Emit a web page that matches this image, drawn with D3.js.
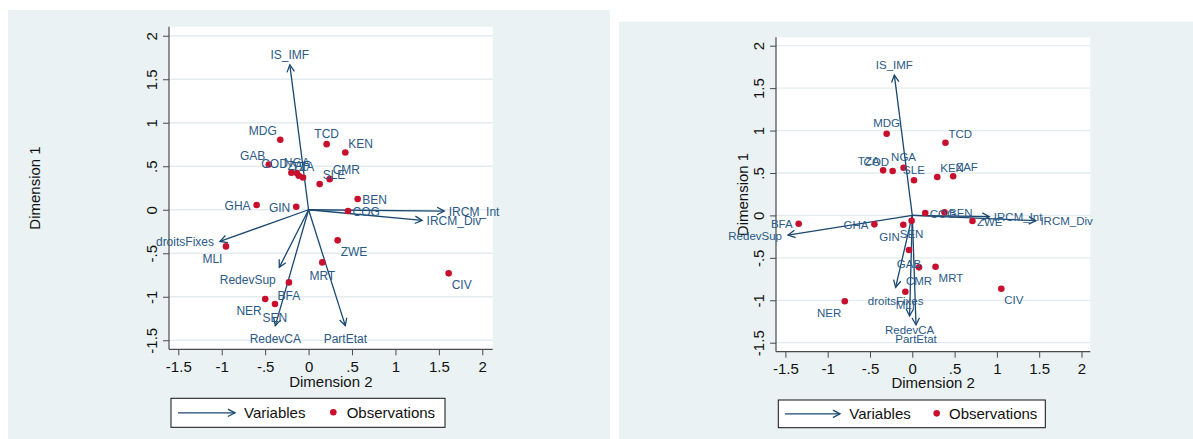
<!DOCTYPE html>
<html>
<head>
<meta charset="utf-8">
<script src="https://cdn.jsdelivr.net/npm/d3@7"></script>
<style>
  body { margin: 0; background: #ffffff; }
  svg { display: block; }
  text { font-family: "Liberation Sans", Arial, Helvetica, sans-serif; }
</style>
</head>
<body>
<svg id="chart" width="1193" height="439"></svg>
<script>
// ---- Data ---------------------------------------------------------------
const countries = ["MDG","TCD","KEN","GAB","COD","NGA","ZAF","TZA","SLE","CMR","BEN",
                   "COG","GHA","GIN","MLI","ZWE","MRT","CIV","BFA","NER","SEN"];

// Biplot A: observation scores
const obsDim2A = [-0.326, 0.208, 0.423,-0.458,-0.198,-0.136,-0.113,-0.064, 0.128, 0.243, 0.565,
                   0.454,-0.598,-0.142,-0.951, 0.335, 0.158, 1.613,-0.226,-0.499,-0.387];
const obsDim1A = [ 0.804, 0.754, 0.658, 0.520, 0.425, 0.421, 0.390, 0.371, 0.295, 0.352, 0.123,
                  -0.015, 0.054, 0.034,-0.421,-0.352,-0.605,-0.731,-0.835,-1.025,-1.083];

// Biplot B: observation scores
const obsDim2B = [-0.303, 0.392, 0.295,-0.039,-0.232,-0.103, 0.483,-0.345, 0.020, 0.079, 0.381,
                   0.153,-0.448,-0.106,-0.082, 0.711, 0.275, 1.052,-1.343,-0.798,-0.008];
const obsDim1B = [ 0.963, 0.857, 0.453,-0.408, 0.523, 0.562, 0.461, 0.531, 0.414,-0.612, 0.037,
                   0.028,-0.105,-0.110,-0.899,-0.066,-0.605,-0.864,-0.098,-1.012,-0.062];

const variables = ["IS_IMF","IRCM_Int","IRCM_Div","droitsFixes","RedevSup","RedevCA","PartEtat"];

// Variable loadings (arrow ends)
const varDim2A = [-0.216, 1.562, 1.307,-1.020,-0.337,-0.383, 0.423];
const varDim1A = [ 1.665,-0.015,-0.123,-0.364,-0.662,-1.332,-1.332];
const varDim2B = [-0.212, 0.911, 1.461,-0.197,-1.469,-0.032, 0.044];
const varDim1B = [ 1.654,-0.015,-0.062,-0.847,-0.231,-1.185,-1.291];

const tickValues = [-1.5, -1, -0.5, 0, 0.5, 1, 1.5, 2];
const tickLabels = ["-1.5", "-1", "-.5", "0", ".5", "1", "1.5", "2"];

const axisTitleX = "Dimension 2";
const axisTitleY = "Dimension 1";
const legendLabels = ["Variables", "Observations"];

// ---- Marker-label clock positions ----------------------------------------
const clockA = {
  MDG:11, TCD:12, KEN:1, GAB:11, COD:11, NGA:12, ZAF:12, TZA:12, SLE:1, CMR:1, BEN:3,
  COG:3, GHA:9, GIN:9, MLI:7, ZWE:5, MRT:6, CIV:5, BFA:6, NER:7, SEN:6,
  IS_IMF:12, IRCM_Int:3, IRCM_Div:3, droitsFixes:9, RedevSup:7, RedevCA:6, PartEtat:6
};
const clockB = {
  MDG:12, TCD:1, KEN:1, GAB:6, COD:11, NGA:12, ZAF:1, TZA:11, SLE:12, CMR:6, BEN:3,
  COG:3, GHA:9, GIN:7, MLI:6, ZWE:3, MRT:5, CIV:5, BFA:9, NER:7, SEN:6,
  IS_IMF:12, IRCM_Int:3, IRCM_Div:3, droitsFixes:6, RedevSup:9, RedevCA:6, PartEtat:6
};

// ---- Styles --------------------------------------------------------------
const C_BG = "#eaf2f3";
const C_GRID = "#e3ecee";
const C_NAVY = "#1a476f";
const C_LABEL = "#2b5a86";
const C_MARK = "#c8102e";
const C_AXIS = "#4a4a4a";

// label placement per clock position: [dx, dy of text centre, anchor]
const clockOffsets = {
  12: [0, -10.5, "middle"],
  1:  [3, -9, "start"],
  2:  [4, -5, "start"],
  3:  [4.5, 0.5, "start"],
  4:  [4, 6, "start"],
  5:  [3, 11.5, "start"],
  6:  [0, 13.5, "middle"],
  7:  [-3.5, 12, "end"],
  8:  [-4, 6, "end"],
  9:  [-6, 0.5, "end"],
  10: [-4, -5, "end"],
  11: [-3.5, -9, "end"]
};

const svg = d3.select("#chart");

function arrowHead(g, x1, y1, x2, y2, len, color, width) {
  const ang = Math.atan2(y2 - y1, x2 - x1);
  const a = Math.PI / 6.5;
  const p1 = [x2 - len * Math.cos(ang - a), y2 - len * Math.sin(ang - a)];
  const p2 = [x2 - len * Math.cos(ang + a), y2 - len * Math.sin(ang + a)];
  g.append("path")
    .attr("d", `M${p1[0]},${p1[1]}L${x2},${y2}L${p2[0]},${p2[1]}`)
    .attr("fill", "none")
    .attr("stroke", color)
    .attr("stroke-width", width)
    .attr("stroke-linejoin", "miter");
}

function drawPanel(cfg) {
  const g = svg.append("g");

  // graph region
  g.append("rect")
    .attr("x", cfg.bg[0]).attr("y", cfg.bg[1])
    .attr("width", cfg.bg[2]).attr("height", cfg.bg[3])
    .attr("fill", C_BG);

  const [L, T, R, B] = cfg.plot;
  const x = d3.scaleLinear().domain(cfg.xDomain).range([L, R]);
  const y = d3.scaleLinear().domain(cfg.yDomain).range([B, T]);

  // plot region
  g.append("rect")
    .attr("x", L).attr("y", T).attr("width", R - L).attr("height", B - T)
    .attr("fill", "#ffffff");

  // horizontal grid lines
  g.append("g").selectAll("line").data(tickValues).join("line")
    .attr("x1", L).attr("x2", R)
    .attr("y1", d => y(d)).attr("y2", d => y(d))
    .attr("stroke", C_GRID).attr("stroke-width", 1.3);

  // axes
  const fmt = d => tickLabels[tickValues.indexOf(d)];
  const xAxis = d3.axisBottom(x).tickValues(tickValues).tickFormat(fmt)
    .tickSizeInner(6).tickSizeOuter(0).tickPadding(3);
  const yAxis = d3.axisLeft(y).tickValues(tickValues).tickFormat(fmt)
    .tickSizeInner(6).tickSizeOuter(0).tickPadding(3);

  const gx = g.append("g").attr("transform", `translate(0,${B})`).call(xAxis);
  gx.select(".domain").attr("stroke", C_AXIS).attr("stroke-width", 1.2)
    .attr("d", `M${L},0H${R}`);
  gx.selectAll(".tick line").attr("stroke", C_AXIS).attr("stroke-width", 1);
  gx.selectAll(".tick text")
    .attr("font-size", 15).attr("fill", "#111").attr("dy", null)
    .attr("y", 22.5);

  const gy = g.append("g").attr("transform", `translate(${L},0)`).call(yAxis);
  gy.select(".domain").attr("stroke", C_AXIS).attr("stroke-width", 1.2)
    .attr("d", `M0,${T}V${B}`);
  gy.selectAll(".tick line").attr("stroke", C_AXIS).attr("stroke-width", 1);
  gy.selectAll(".tick text")
    .attr("font-size", 15).attr("fill", "#111")
    .attr("x", null).attr("dy", null)
    .attr("text-anchor", "middle")
    .attr("transform", "translate(-12.5,0) rotate(-90)");

  // axis titles
  g.append("text")
    .attr("x", (L + R) / 2).attr("y", B + cfg.xTitleOffset)
    .attr("text-anchor", "middle").attr("font-size", 15).attr("fill", "#111")
    .text(axisTitleX);
  g.append("text")
    .attr("transform", `translate(${cfg.yTitleX},${(T + B) / 2}) rotate(-90)`)
    .attr("text-anchor", "middle").attr("font-size", 15).attr("fill", "#111")
    .text(axisTitleY);

  const labelSize = cfg.labelSize;
  const capHalf = labelSize * 0.36;

  function placeLabel(layer, name, px, py) {
    const [dx, dy, anchor] = clockOffsets[cfg.clock[name]];
    layer.append("text")
      .attr("x", px + dx).attr("y", py + dy + capHalf)
      .attr("text-anchor", anchor)
      .attr("font-size", labelSize)
      .attr("fill", C_LABEL)
      .text(name);
  }

  // variable arrows
  const arrows = g.append("g");
  variables.forEach((v, i) => {
    const x0 = x(0), y0 = y(0);
    const x1 = x(cfg.varX[i]), y1 = y(cfg.varY[i]);
    arrows.append("line")
      .attr("x1", x0).attr("y1", y0).attr("x2", x1).attr("y2", y1)
      .attr("stroke", C_NAVY).attr("stroke-width", 1.3);
    arrowHead(arrows, x0, y0, x1, y1, 8, C_NAVY, 1.3);
  });

  // observation markers
  const obs = countries.map((c, i) => ({ name: c, d2: cfg.obsX[i], d1: cfg.obsY[i] }));
  g.append("g").selectAll("circle").data(obs).join("circle")
    .attr("cx", d => x(d.d2)).attr("cy", d => y(d.d1))
    .attr("r", 3.3).attr("fill", C_MARK);

  // labels
  const labels = g.append("g");
  variables.forEach((v, i) => placeLabel(labels, v, x(cfg.varX[i]), y(cfg.varY[i])));
  obs.forEach(d => placeLabel(labels, d.name, x(d.d2), y(d.d1)));

  // legend
  const lg = cfg.legend;
  const leg = g.append("g");
  leg.append("rect")
    .attr("x", lg.x).attr("y", lg.y).attr("width", lg.w).attr("height", lg.h)
    .attr("fill", "#ffffff").attr("stroke", "#111").attr("stroke-width", 1);
  const cy = lg.y + lg.h / 2;
  leg.append("line")
    .attr("x1", lg.lineX0).attr("x2", lg.lineX1).attr("y1", cy).attr("y2", cy)
    .attr("stroke", C_NAVY).attr("stroke-width", 1.3);
  arrowHead(leg, lg.lineX0, cy, lg.lineX1, cy, 8, C_NAVY, 1.3);
  leg.append("text")
    .attr("x", lg.text1X).attr("y", cy + 5.5)
    .attr("font-size", 15).attr("fill", "#111").text(legendLabels[0]);
  leg.append("circle")
    .attr("cx", lg.dotX).attr("cy", cy - 0.5).attr("r", 3.3).attr("fill", C_MARK);
  leg.append("text")
    .attr("x", lg.text2X).attr("y", cy + 5.5)
    .attr("font-size", 15).attr("fill", "#111").text(legendLabels[1]);
}

drawPanel({
  bg: [8, 10, 602, 429],
  plot: [169, 26.7, 492.7, 349.3],
  xDomain: [-1.607, 2.120],
  yDomain: [-1.604, 2.104],
  obsX: obsDim2A, obsY: obsDim1A,
  varX: varDim2A, varY: varDim1A,
  clock: clockA,
  labelSize: 12,
  xTitleOffset: 37.5,
  yTitleX: 40,
  legend: { x: 171, y: 398.3, w: 274, h: 29, lineX0: 178, lineX1: 235,
            text1X: 244, dotX: 333.3, text2X: 346.7 }
});

drawPanel({
  bg: [619, 21.7, 574, 417.3],
  plot: [776, 37.3, 1090.3, 351.7],
  xDomain: [-1.611, 2.104],
  yDomain: [-1.606, 2.099],
  obsX: obsDim2B, obsY: obsDim1B,
  varX: varDim2B, varY: varDim1B,
  clock: clockB,
  labelSize: 11.5,
  xTitleOffset: 36.5,
  yTitleX: 748,
  legend: { x: 778.3, y: 400, w: 267, h: 27.7, lineX0: 785, lineX1: 840,
            text1X: 849.3, dotX: 936.7, text2X: 949 }
});
</script>
</body>
</html>
